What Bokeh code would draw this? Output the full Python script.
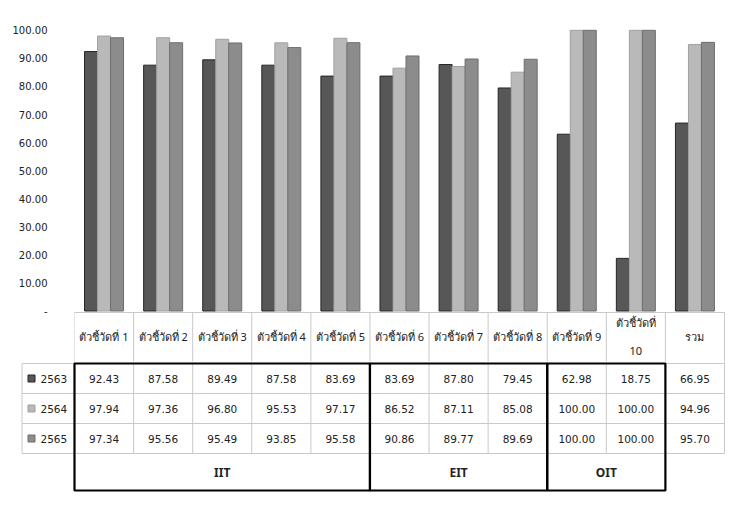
from bokeh.plotting import figure
from bokeh.layouts import column
from bokeh.models import Range1d, FixedTicker, NumeralTickFormatter, ColumnDataSource
from bokeh.embed import file_html
from bokeh.resources import INLINE
from bokeh.core.properties import value

# ---------------- data ----------------
categories = ["ตัวชี้วัดที่ 1", "ตัวชี้วัดที่ 2", "ตัวชี้วัดที่ 3", "ตัวชี้วัดที่ 4",
              "ตัวชี้วัดที่ 5", "ตัวชี้วัดที่ 6", "ตัวชี้วัดที่ 7", "ตัวชี้วัดที่ 8",
              "ตัวชี้วัดที่ 9", "ตัวชี้วัดที่\n10", "รวม"]
years = ["2563", "2564", "2565"]
v2563 = [92.43, 87.58, 89.49, 87.58, 83.69, 83.69, 87.80, 79.45, 62.98, 18.75, 66.95]
v2564 = [97.94, 97.36, 96.80, 95.53, 97.17, 86.52, 87.11, 85.08, 100.00, 100.00, 94.96]
v2565 = [97.34, 95.56, 95.49, 93.85, 95.58, 90.86, 89.77, 89.69, 100.00, 100.00, 95.70]
groups = ["IIT", "EIT", "OIT"]
group_sizes = [5, 3, 2]
y_ticks = [0, 10, 20, 30, 40, 50, 60, 70, 80, 90, 100]

series = [v2563, v2564, v2565]
fills = ["#575757", "#b9b9b9", "#8c8c8c"]
edges = ["#262626", "#a0a0a0", "#6e6e6e"]

W = 748
COL = 59.09          # px per category
LEFT = 74            # px from figure edge to first category
n = len(categories)
x_end = (W - LEFT) / COL

PPU = 2.807          # px per value unit
ZERO_Y = 310.5       # px of value 0
CH = 361             # chart figure height (includes the header row)
HEAD_TOP = 312       # px of table header top line
HEAD_MID = 336       # px of header label centre
def vy(px):
    return (ZERO_Y - px) / PPU
y_top = vy(0)
y_bot = vy(CH)

NUM_FONT = value("DejaVu Sans")
THAI_FONT = value("Noto Sans")
grid_col = "#c9c9c9"

# ---------------- chart ----------------
p = figure(width=W, height=CH, output_backend="svg", toolbar_location=None,
           x_range=Range1d(0, x_end), y_range=Range1d(y_bot, y_top),
           x_axis_location=None, min_border_left=LEFT, min_border_right=0,
           min_border_top=0, min_border_bottom=0)
p.frame_align = False
p.outline_line_color = None
p.grid.visible = False
ya = p.yaxis[0]
ya.ticker = FixedTicker(ticks=y_ticks)
ya.formatter = NumeralTickFormatter(format="0.00")
ya.major_label_overrides = {0: "-"}
ya.axis_line_color = None
ya.major_tick_line_color = None
ya.minor_tick_line_color = None
ya.major_label_standoff = 21
ya.major_label_text_font = "DejaVu Sans"
ya.major_label_text_font_size = "10px"
ya.major_label_text_color = "#222222"

bw = 0.22
offsets = [-bw, 0.0, bw]
for k, vals in enumerate(series):
    src = ColumnDataSource(dict(x=[i + 0.5 + offsets[k] for i in range(n)], top=vals))
    p.vbar(x="x", top="top", width=bw, bottom=0, source=src,
           fill_color=fills[k], line_color=edges[k], line_width=1)

# header row of the data table (category labels)
sx = [[0, n]] + [[i, i] for i in range(n + 1)]
sy = [[vy(HEAD_TOP), vy(HEAD_TOP)]] + [[vy(HEAD_TOP), y_bot] for _ in range(n + 1)]
p.multi_line(xs=sx, ys=sy, line_color=grid_col, line_width=1)
hx = [i + 0.5 for i in range(n)]
p.text(x=hx, y=[vy(HEAD_MID)] * n, text=categories,
       text_align="center", text_baseline="middle", text_font=THAI_FONT,
       text_font_size="11px", text_color="#222222", text_line_height=1.9)

# ---------------- table body ----------------
t_top, t_bottom = CH, 523
row_h, grp_h = 30, 37
y_rows = [363 + r * row_h for r in range(4)]   # row boundaries
y_grp_bottom = y_rows[3] + grp_h

t = figure(width=W, height=t_bottom - t_top, output_backend="svg", toolbar_location=None,
           x_range=Range1d(-LEFT / COL, x_end), y_range=Range1d(t_bottom, t_top),
           x_axis_location=None, y_axis_location=None,
           min_border_left=0, min_border_right=0, min_border_top=0, min_border_bottom=0)
t.frame_align = False
t.outline_line_color = None
t.grid.visible = False

leg_left = (21.5 - LEFT) / COL
xs = [[i, i] for i in range(n + 1)]
ys = [[t_top, y_rows[3]] for _ in range(n + 1)]
xs.append([leg_left, leg_left]); ys.append([y_rows[0], y_rows[3]])
for yb in y_rows:
    xs.append([leg_left, n]); ys.append([yb, yb])
t.multi_line(xs=xs, ys=ys, line_color=grid_col, line_width=1)

# values and legend keys
for r, vals in enumerate(series):
    yc = (y_rows[r] + y_rows[r + 1]) / 2
    t.text(x=hx, y=[yc] * n, text=["%.2f" % v for v in vals],
           text_align="center", text_baseline="middle", text_font=NUM_FONT,
           text_font_size="10.5px", text_color="#222222")
    t.scatter(x=[(31 - LEFT) / COL], y=[yc], marker="square", size=7,
              fill_color=fills[r], line_color=edges[r])
    t.text(x=[(40 - LEFT) / COL], y=[yc], text=[years[r]], text_align="left",
           text_baseline="middle", text_font=NUM_FONT, text_font_size="10.5px",
           text_color="#222222")

# group boxes
g_left, gx = [], 0
for s in group_sizes:
    g_left.append(gx); gx += s
g_right = [a + s for a, s in zip(g_left, group_sizes)]
t.quad(left=g_left, right=g_right, top=[y_rows[0]] * 3, bottom=[y_grp_bottom] * 3,
       fill_color=None, line_color="black", line_width=2.2)
t.text(x=[(a + b) / 2 for a, b in zip(g_left, g_right)],
       y=[(y_rows[3] + y_grp_bottom) / 2] * 3, text=groups,
       text_align="center", text_baseline="middle", text_font=value("Noto Sans"),
       text_font_size="12px", text_font_style="bold", text_color="#222222")

layout = column(p, t, spacing=0)
open("out.html", "w").write(file_html(layout, INLINE))
